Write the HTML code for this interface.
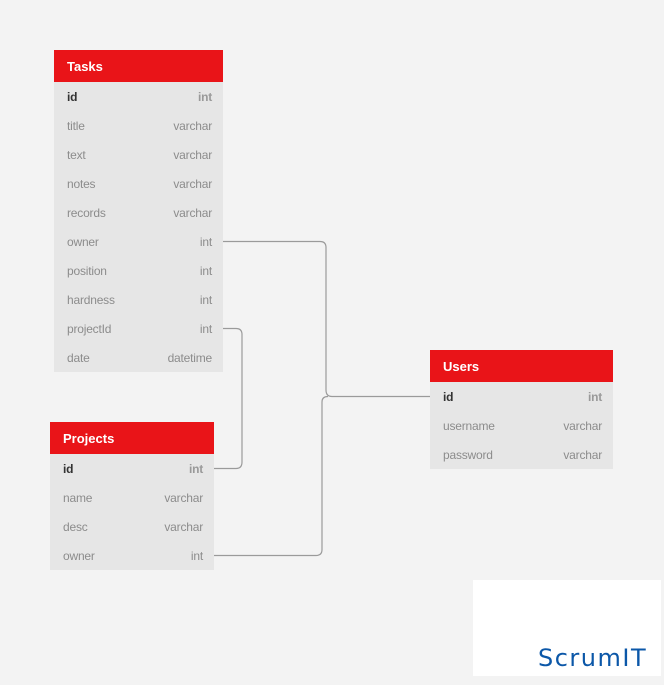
<!DOCTYPE html>
<html><head><meta charset="utf-8"><style>
body{margin:0;width:664px;height:685px;background:#f3f3f3;position:relative;overflow:hidden;font-family:"Liberation Sans",sans-serif}
.t{position:absolute;background:#e6e6e6}
.h{height:32px;background:#e91418;color:#fff;font-weight:bold;font-size:13px;line-height:34px;padding-left:13px}
.r{height:29px;line-height:31px;font-size:12px;color:#8c8c8c;padding:0 11px 0 13px;display:flex;justify-content:space-between;letter-spacing:-0.2px}
.r.k span:first-child{color:#333;font-weight:bold}
.r.k span:last-child{font-weight:bold;color:#999}
</style></head><body>
<svg width="664" height="685" style="position:absolute;left:0;top:0" fill="none" stroke="#9a9a9a" stroke-width="1.2">
<path d="M223 241.5 H320 Q326 241.5 326 247.5 V390 Q326 396.5 332 396.5 H430"/>
<path d="M223 328.5 H236 Q242 328.5 242 334.5 V462 Q242 468.5 236 468.5 H214"/>
<path d="M214 555.5 H316 Q322 555.5 322 549.5 V402 Q322 396.5 328 396.5"/>
</svg>
<div class="t" style="left:54px;top:50px;width:169px">
<div class="h">Tasks</div>
<div class="r k"><span>id</span><span>int</span></div>
<div class="r"><span>title</span><span>varchar</span></div>
<div class="r"><span>text</span><span>varchar</span></div>
<div class="r"><span>notes</span><span>varchar</span></div>
<div class="r"><span>records</span><span>varchar</span></div>
<div class="r"><span>owner</span><span>int</span></div>
<div class="r"><span>position</span><span>int</span></div>
<div class="r"><span>hardness</span><span>int</span></div>
<div class="r"><span>projectId</span><span>int</span></div>
<div class="r"><span>date</span><span>datetime</span></div>
</div>
<div class="t" style="left:430px;top:350px;width:183px">
<div class="h">Users</div>
<div class="r k"><span>id</span><span>int</span></div>
<div class="r"><span>username</span><span>varchar</span></div>
<div class="r"><span>password</span><span>varchar</span></div>
</div>
<div class="t" style="left:50px;top:422px;width:164px">
<div class="h">Projects</div>
<div class="r k"><span>id</span><span>int</span></div>
<div class="r"><span>name</span><span>varchar</span></div>
<div class="r"><span>desc</span><span>varchar</span></div>
<div class="r"><span>owner</span><span>int</span></div>
</div>
<div style="position:absolute;left:473px;top:580px;width:188px;height:96px;background:#fff">
<div style="position:absolute;left:65px;top:64px;font-size:24px;line-height:28px;color:#0b57a8;letter-spacing:1.5px;font-family:'DejaVu Sans','Liberation Sans',sans-serif">ScrumIT</div>
</div>
</body></html>
